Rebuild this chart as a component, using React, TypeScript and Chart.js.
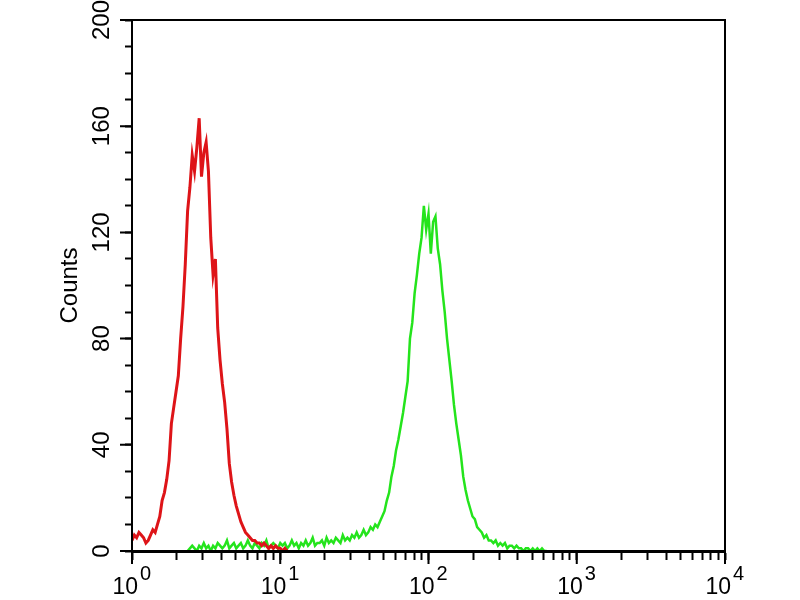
import React, { useEffect, useRef } from 'react';
import { Chart, registerables } from 'chart.js';

Chart.register(...registerables);

// Instrument channels: 256 channels per decade, histogram sampled every 4 channels
const CHANNELS_PER_DECADE = 256;
const CHANNEL_STEP = 4;

// Red histogram (control), starting at channel 0
const redStartChannel = 0;
const redCounts = [
  4, 6, 5, 7, 6, 5, 3, 4, 6, 8,
  7, 10, 13, 19, 22, 27, 34, 48, 54, 60,
  66, 80, 92, 108, 128, 137, 149, 143, 152, 163,
  141, 150, 154, 143, 118, 104, 110, 84, 72, 63,
  56, 46, 33, 26, 21, 17, 14, 11, 9, 7,
  6, 5, 4, 4, 3, 3, 2, 3, 2, 1,
  2, 1, 2, 1, 1, 0, 1, 0,
];

// Green histogram (stained), starting at channel 96
const greenStartChannel = 96;
const greenCounts = [
  0, 1, 2, 1, 0, 2, 1, 3, 1, 2, 0, 2,
  1, 3, 2, 1, 2, 4, 1, 2, 3, 1, 2, 3, 1, 2, 4,
  2, 1, 3, 2, 1, 3, 2, 4, 1, 2, 3, 2, 1, 3, 2,
  3, 1, 2, 4, 2, 3, 1, 3, 2, 4, 2, 3, 5, 2, 3,
  3, 4, 2, 5, 3, 4, 3, 5, 4, 3, 6, 4, 5, 4, 6,
  5, 7, 5, 6, 8, 6, 7, 9, 8, 10,
  9, 11, 13, 15, 19, 22, 28, 32, 38, 42, 47, 52, 58, 64, 80, 86, 97, 104, 112, 118, 130, 121, 127, 112, 124,
  126, 114, 108, 98, 90, 80, 72, 64, 55, 48, 42, 36, 28, 23, 19, 16, 13, 12, 9, 8, 7, 5, 6, 4, 4,
  3, 4, 2, 3, 2, 3, 1, 2, 2, 1, 2, 1, 1, 0, 1, 1, 0, 1, 0, 1, 0, 1, 0, 0,
];

const xDecades = [1, 10, 100, 1000, 10000];
const xTickExponents = ['0', '1', '2', '3', '4'];
const xMinorMultipliers = [1, 2, 3, 4, 5, 6, 7, 8, 9];
const yLabelledTicks = [0, 40, 80, 120, 160, 200];
const yMin = 0;
const yMax = 200;
const yStep = 10;
const yTitle = 'Counts';

const FONT = '"Liberation Sans", Arial, Helvetica, sans-serif';

function toPoints(start: number, counts: number[]) {
  return counts.map((c, i) => ({
    x: Math.pow(10, (start + i * CHANNEL_STEP) / CHANNELS_PER_DECADE),
    y: c,
  }));
}

const framePlugin = {
  id: 'frameAndLabels',
  afterDraw(chart: any) {
    const { ctx, chartArea, scales } = chart;
    const { left, top, right, bottom } = chartArea;
    ctx.save();
    ctx.strokeStyle = '#000';
    ctx.lineWidth = 2;
    ctx.strokeRect(left, top, right - left, bottom - top);
    // longer ticks at decades / labelled counts
    ctx.beginPath();
    for (const d of xDecades) {
      const px = scales.x.getPixelForValue(d);
      ctx.moveTo(px, bottom);
      ctx.lineTo(px, bottom + 13);
    }
    for (const v of yLabelledTicks) {
      const py = scales.y.getPixelForValue(v);
      ctx.moveTo(left, py);
      ctx.lineTo(left - 12, py);
    }
    ctx.stroke();
    // x labels 10^n
    ctx.fillStyle = '#000';
    ctx.textBaseline = 'alphabetic';
    xDecades.forEach((d, i) => {
      const px = scales.x.getPixelForValue(d);
      ctx.font = `23px ${FONT}`;
      ctx.textAlign = 'right';
      ctx.fillText('10', px + 6, bottom + 43);
      ctx.font = `20px ${FONT}`;
      ctx.textAlign = 'left';
      ctx.fillText(xTickExponents[i], px + 8, bottom + 29);
    });
    ctx.restore();
  },
};

export default function App() {
  const ref = useRef<HTMLCanvasElement>(null);

  useEffect(() => {
    if (!ref.current) return;
    const chart = new Chart(ref.current, {
      type: 'line',
      data: {
        datasets: [
          {
            label: 'red',
            data: toPoints(redStartChannel, redCounts),
            borderColor: 'rgb(222,20,24)',
            borderWidth: 3,
            pointRadius: 0,
            tension: 0,
            fill: false,
          },
          {
            label: 'green',
            data: toPoints(greenStartChannel, greenCounts),
            borderColor: 'rgb(36,228,28)',
            borderWidth: 2.5,
            pointRadius: 0,
            tension: 0,
            fill: false,
          },
        ],
      },
      options: {
        responsive: false,
        animation: false,
        parsing: false as any,
        layout: { padding: { top: 20, right: 75, left: 0, bottom: 0 } },
        plugins: {
          legend: { display: false },
          tooltip: { enabled: false },
        },
        scales: {
          x: {
            type: 'logarithmic',
            min: xDecades[0],
            max: xDecades[xDecades.length - 1],
            afterBuildTicks: (scale: any) => {
              const vals: number[] = [];
              for (let i = 0; i < xDecades.length - 1; i++) {
                for (const m of xMinorMultipliers) vals.push(m * xDecades[i]);
              }
              vals.push(xDecades[xDecades.length - 1]);
              scale.ticks = vals.map((v) => ({ value: v }));
            },
            afterFit: (scale: any) => {
              scale.height = 49;
            },
            ticks: {
              autoSkip: false,
              callback: () => '',
              font: { size: 20, family: FONT },
            },
            grid: {
              drawOnChartArea: false,
              drawTicks: true,
              tickLength: 9,
              tickWidth: 2,
              tickColor: '#000',
            },
            border: { display: true, color: '#000', width: 3 },
          },
          y: {
            type: 'linear',
            min: yMin,
            max: yMax,
            afterFit: (scale: any) => {
              scale.width = 132;
            },
            ticks: {
              stepSize: yStep,
              autoSkip: false,
              minRotation: 90,
              maxRotation: 90,
              crossAlign: 'center',
              padding: 3,
              color: '#000',
              font: { size: 24, family: FONT },
              callback: (v: any) => (yLabelledTicks.includes(Number(v)) ? String(v) : ''),
            },
            grid: {
              drawOnChartArea: false,
              drawTicks: true,
              tickLength: 7,
              tickWidth: 2,
              tickColor: '#000',
            },
            border: { display: true, color: '#000', width: 2 },
            title: {
              display: true,
              text: yTitle,
              color: '#000',
              font: { size: 24, family: FONT },
              padding: { top: 56, bottom: 0 },
            },
          },
        },
      },
      plugins: [framePlugin],
    } as any);
    return () => chart.destroy();
  }, []);

  return (
    <div style={{ position: 'absolute', left: 0, top: 0, width: 800, height: 600, background: '#fff' }}>
      <canvas ref={ref} width={800} height={600} style={{ display: 'block' }} />
    </div>
  );
}
